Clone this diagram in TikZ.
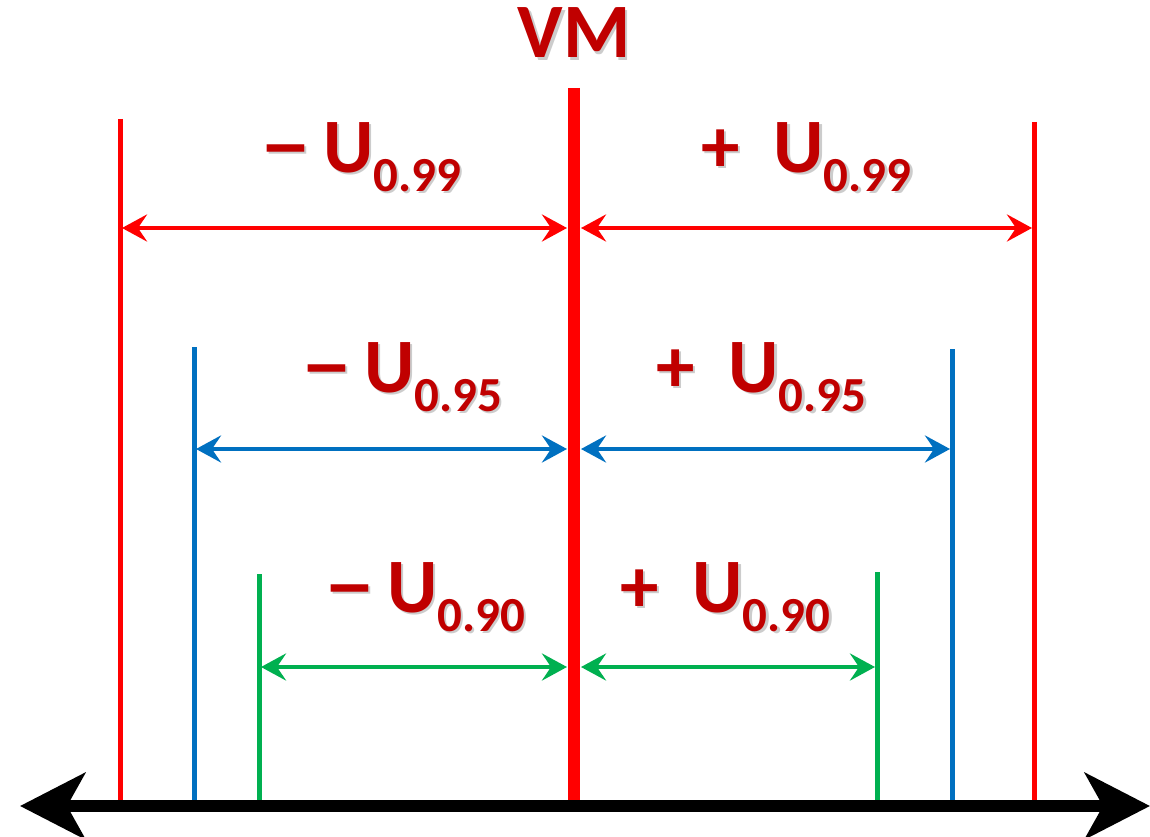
\documentclass[tikz,border=0pt]{standalone}
\usepackage{fontspec}
\usepackage{graphicx}
\setmainfont{Carlito}
\usetikzlibrary{arrows.meta}
\definecolor{dred}{HTML}{C00000}
\definecolor{mblue}{HTML}{0070C0}
\definecolor{mgreen}{HTML}{00B050}
\newcommand\ulab[3]{\fontsize{77}{77}\selectfont\bfseries #1\hspace{#2}U\raisebox{-19pt}{\fontsize{49}{49}\selectfont #3}}
\newcommand\mdash{\scalebox{1.38}[1.1]{--}}
\tikzset{
  lbl/.style={anchor=base west,inner sep=0pt,text=dred},
  shd/.style={anchor=base west,inner sep=0pt,text=black!20},
  lim/.style={line width=5pt},
  dim/.style={line width=4.5pt,{Stealth[length=25pt,width=27pt,inset=9pt]}-{Stealth[length=25pt,width=27pt,inset=9pt]}},
  axis/.style={line width=12pt,{Stealth[length=65pt,width=66pt,inset=18pt]}-{Stealth[length=65pt,width=66pt,inset=18pt]}}
}
\begin{document}
\begin{tikzpicture}[x=1pt,y=-1pt]
\fill[white] (0,0) rectangle (1150,837);
\useasboundingbox (0,0) rectangle (1150,837);
% coordinates
\coordinate (cT) at (574,88);
\coordinate (cB) at (574,800);
\coordinate (rLT) at (120,119); \coordinate (rLB) at (120,800);
\coordinate (rRT) at (1034,122); \coordinate (rRB) at (1034,800);
\coordinate (bLT) at (194,347); \coordinate (bLB) at (194,800);
\coordinate (bRT) at (952,349); \coordinate (bRB) at (952,800);
\coordinate (gLT) at (259,574); \coordinate (gLB) at (259,800);
\coordinate (gRT) at (877,572); \coordinate (gRB) at (877,800);
\coordinate (axL) at (20,806); \coordinate (axR) at (1150,806);
% limit lines
\draw[lim,red] (rLT) -- (rLB);
\draw[lim,red] (rRT) -- (rRB);
\draw[lim,mblue] (bLT) -- (bLB);
\draw[lim,mblue] (bRT) -- (bRB);
\draw[lim,mgreen] (gLT) -- (gLB);
\draw[lim,mgreen] (gRT) -- (gRB);
\draw[line width=12pt,red] (cT) -- (cB);
% dimension arrows
\coordinate (rA1) at (122,228); \coordinate (rA2) at (567,228);
\coordinate (rA3) at (581,228); \coordinate (rA4) at (1032,228);
\coordinate (bA1) at (196,449); \coordinate (bA2) at (567,449);
\coordinate (bA3) at (581,449); \coordinate (bA4) at (950,449);
\coordinate (gA1) at (261,667); \coordinate (gA2) at (567,667);
\coordinate (gA3) at (581,667); \coordinate (gA4) at (875,667);
\draw[dim,red] (rA1) -- (rA2);
\draw[dim,red] (rA3) -- (rA4);
\draw[dim,mblue] (bA1) -- (bA2);
\draw[dim,mblue] (bA3) -- (bA4);
\draw[dim,mgreen] (gA1) -- (gA2);
\draw[dim,mgreen] (gA3) -- (gA4);
% axis
\draw[axis,black] (axL) -- (axR);
% labels (with soft shadow)
\node[anchor=base,inner sep=0pt,text=black!20,font=\fontsize{77}{77}\selectfont\bfseries] at (576.5,60.5) {VM};
\node (vm) [anchor=base,inner sep=0pt,text=dred,font=\fontsize{77}{77}\selectfont\bfseries] at (574,58) {VM};
\node[shd] at (261.5,174.5) {\ulab{\mdash}{11pt}{0.99}};
\node (m99) [lbl] at (259,172) {\ulab{\mdash}{11pt}{0.99}};
\node[shd] at (703.5,174.5) {\ulab{+}{34pt}{0.99}};
\node (p99) [lbl] at (701,172) {\ulab{+}{34pt}{0.99}};
\node[shd] at (302.5,394.5) {\ulab{\mdash}{11pt}{0.95}};
\node (m95) [lbl] at (300,392) {\ulab{\mdash}{11pt}{0.95}};
\node[shd] at (658.5,394.5) {\ulab{+}{34pt}{0.95}};
\node (p95) [lbl] at (656,392) {\ulab{+}{34pt}{0.95}};
\node[shd] at (325.5,614.5) {\ulab{\mdash}{11pt}{0.90}};
\node (m90) [lbl] at (323,612) {\ulab{\mdash}{11pt}{0.90}};
\node[shd] at (622.5,614.5) {\ulab{+}{34pt}{0.90}};
\node (p90) [lbl] at (620,612) {\ulab{+}{34pt}{0.90}};
\end{tikzpicture}
\end{document}
